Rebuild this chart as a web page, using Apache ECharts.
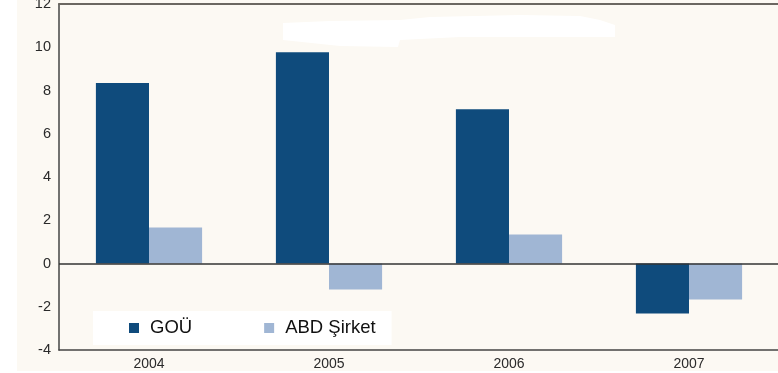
<!DOCTYPE html>
<html>
<head>
<meta charset="utf-8">
<script src="https://cdn.jsdelivr.net/npm/echarts@6/dist/echarts.min.js"></script>
<style>
  html, body { margin: 0; padding: 0; background: #ffffff; }
  #chart { width: 778px; height: 373px; }
</style>
</head>
<body>
<div id="chart"></div>
<script>
// Yıllar ve seriler (%)
const years = ['2004', '2005', '2006', '2007'];
const seriesNames = ['GOÜ', 'ABD Şirket'];
const gouValues = [8.35, 9.77, 7.13, -2.31];
const abdValues = [1.67, -1.2, 1.34, -1.67];
const yTicks = { min: -4, max: 12, step: 2 };

const FONT = "'Liberation Sans', Arial, Helvetica, sans-serif";
const chart = echarts.init(document.getElementById('chart'), null, { renderer: 'canvas' });

chart.setOption({
  backgroundColor: '#fcf9f3',
  animation: false,
  textStyle: { fontFamily: FONT },
  grid: { left: 59, right: -1, top: 4, bottom: 23, containLabel: false, outerBoundsMode: 'none' },
  graphic: [
    // white margins around the cream panel
    { type: 'rect', shape: { x: 0, y: 0, width: 17, height: 373 }, style: { fill: '#ffffff' }, z: -1 },
    { type: 'rect', shape: { x: 0, y: 371, width: 778, height: 2 }, style: { fill: '#ffffff' }, z: -1 },
    // blanked-out heading area
    {
      type: 'polygon', z: 1,
      shape: { points: [[283, 23], [330, 21], [400, 20], [430, 17], [520, 15], [580, 16], [600, 20], [615, 25], [615, 37], [460, 37], [400, 40], [398, 47], [340, 46], [283, 40]] },
      style: { fill: '#ffffff' }
    }
  ],
  legend: {
    data: seriesNames,
    left: 93,
    top: 311,
    orient: 'horizontal',
    backgroundColor: '#ffffff',
    padding: [7, 16, 7, 36],
    itemWidth: 10,
    itemHeight: 10,
    itemGap: 72,
    icon: 'rect',
    textStyle: { fontFamily: FONT, fontSize: 18.5, color: '#111111', padding: [0, 0, 0, 6], lineHeight: 20 }
  },
  xAxis: [
    {
      type: 'category',
      data: years,
      position: 'bottom',
      boundaryGap: true,
      axisLine: { onZero: false, lineStyle: { color: '#444444', width: 1.5 } },
      axisTick: { show: false },
      axisLabel: { color: '#2a2a2a', fontSize: 14, fontFamily: FONT, margin: 7 },
      splitLine: { show: false }
    },
    {
      type: 'category',
      data: years,
      position: 'top',
      axisLine: { onZero: false, lineStyle: { color: '#6b6761', width: 2 } },
      axisTick: { show: false },
      axisLabel: { show: false },
      splitLine: { show: false }
    }
  ],
  yAxis: {
    type: 'value',
    min: yTicks.min,
    max: yTicks.max,
    interval: yTicks.step,
    axisLine: { show: true, lineStyle: { color: '#444444', width: 1.5 } },
    axisTick: { show: false },
    axisLabel: {
      color: '#2a2a2a', fontSize: 14.5, fontFamily: FONT, margin: 8,
      verticalAlign: 'middle', verticalAlignMinLabel: 'middle', verticalAlignMaxLabel: 'middle'
    },
    splitLine: { show: false }
  },
  series: [
    {
      name: seriesNames[0],
      type: 'bar',
      data: gouValues,
      barGap: '0%',
      barCategoryGap: '41%',
      itemStyle: { color: '#0f4b7c' },
      markLine: {
        silent: true,
        symbol: 'none',
        label: { show: false },
        lineStyle: { color: '#333333', width: 1.5, type: 'solid' },
        data: [{ yAxis: 0 }]
      },
      z: 2
    },
    {
      name: seriesNames[1],
      type: 'bar',
      data: abdValues,
      itemStyle: { color: '#a0b6d4' },
      z: 2
    }
  ]
});
</script>
</body>
</html>
